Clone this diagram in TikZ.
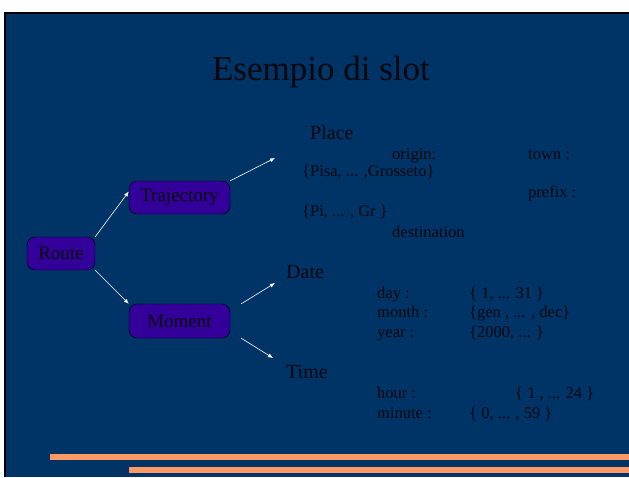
\documentclass[tikz,border=0pt]{standalone}
\usepackage{fontspec}
\setmainfont{Liberation Serif}
\usetikzlibrary{arrows.meta}
\definecolor{slidebg}{HTML}{003366}
\definecolor{boxfill}{HTML}{330099}
\definecolor{barorange}{HTML}{FF9966}
\definecolor{inktext}{HTML}{08080E}
\tikzset{
    slotbox/.style={draw=black, fill=boxfill, text=inktext, rounded corners=8pt, inner sep=0pt,
        minimum height=33pt, font=\fontsize{19}{22}\selectfont},
    slotname/.style={anchor=base west, inner sep=0pt, text=inktext, font=\fontsize{20}{24}\selectfont},
    slottext/.style={anchor=base west, inner sep=0pt, text=inktext, font=\fontsize{16.5}{20}\selectfont},
    link/.style={draw=white, line width=0.6pt, -{Latex[length=5pt, width=4pt]}}
}
\begin{document}
\begin{tikzpicture}[x=1pt, y=-1pt]
    \useasboundingbox (0,0) rectangle (629,477);
    \fill[white] (0,0) rectangle (629,477);
    \fill[slidebg] (5,13) rectangle (629,477);
    \draw[black, line width=2pt] (5,477) -- (5,13) -- (629,13);
    % title
    \node[font=\fontsize{35}{40}\selectfont, text=inktext, inner sep=0pt] (title) at (321,72) {Esempio di slot};
    % boxes
    \node[slotbox, minimum width=68pt] (route) at (61,253.5) {Route};
    \node[slotbox, minimum width=101pt] (traj) at (179.5,197.5) {Trajectory};
    \node[slotbox, minimum width=101pt, minimum height=34pt] (moment) at (179.5,321) {Moment};
    % slot names
    \node[slotname] (place) at (310,139) {Place};
    \node[slotname] (date) at (286,278) {Date};
    \node[slotname] (time) at (286,378) {Time};
    \coordinate (placetip) at (275,158);
    \coordinate (datetip) at (275,283);
    \coordinate (timetip) at (273,358);
    % Place fillers
    \node[slottext] (origin) at (392,159) {origin:};
    \node[slottext] (town) at (528,159) {town :};
    \node[slottext] (townset) at (302,176) {\{Pisa, ... ,Grosseto\}};
    \node[slottext] (prefix) at (528,197) {prefix :};
    \node[slottext] (prefixset) at (302,216) {\{Pi, ... , Gr \}};
    \node[slottext] (dest) at (392,237) {destination};
    % Date fillers
    \node[slottext] (day) at (377,298) {day :};
    \node[slottext] (dayset) at (469,298) {\{ 1, ... 31 \}};
    \node[slottext] (month) at (377,317) {month :};
    \node[slottext] (monthset) at (469,317) {\{gen , ... , dec\}};
    \node[slottext] (year) at (377,337) {year :};
    \node[slottext] (yearset) at (469,337) {\{2000, ... \}};
    % Time fillers
    \node[slottext] (hour) at (377,398) {hour :};
    \node[slottext] (hourset) at (515,398) {\{ 1 , ... 24 \}};
    \node[slottext] (minute) at (377,418) {minute :};
    \node[slottext] (minuteset) at (469,418) {\{ 0, ... , 59 \}};
    % links
    \draw[link] (route.north east) -- ([yshift=6pt]traj.west);
    \draw[link] (route.south east) -- (moment.north west);
    \draw[link] (traj.north east) -- (placetip);
    \draw[link] ([xshift=11pt]moment.north east) -- (datetip);
    \draw[link] ([xshift=11pt]moment.south east) -- (timetip);
    % bars
    \fill[barorange] (50,454) rectangle (629,460);
    \fill[barorange] (129,467) rectangle (629,473);
\end{tikzpicture}
\end{document}
